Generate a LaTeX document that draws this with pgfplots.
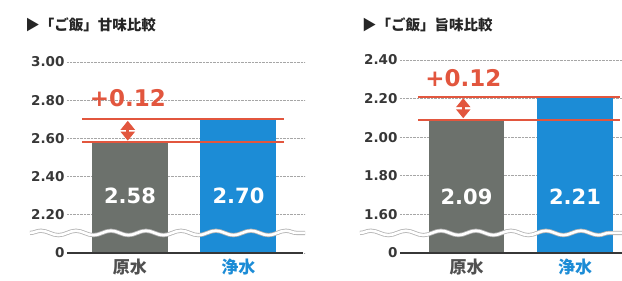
\documentclass[border=0pt]{standalone}
\usepackage{fontspec}
\setmainfont{DejaVu Sans}
\newfontfamily\cjk{Noto Sans CJK JP}
\usepackage{pgfplots}
\pgfplotsset{compat=1.18}
\usetikzlibrary{arrows.meta,decorations.pathmorphing}
\definecolor{bargray}{RGB}{108,113,108}
\definecolor{barblue}{RGB}{28,140,214}
\definecolor{myred}{RGB}{226,86,62}
\definecolor{labgray}{RGB}{80,80,80}
\definecolor{tickgray}{RGB}{55,55,55}
\pgfplotsset{
  mystyle/.style={
    scale only axis,
    anchor=south west,
    clip mode=individual,
    axis line style={draw=none},
    major tick length=0pt,
    xtick={0,1},
    xticklabels={\textcolor{labgray}{原水},\textcolor{barblue}{浄水}},
    x tick label style={font=\cjk\bfseries\fontsize{17}{17}\selectfont, yshift=-2pt},
    y tick label style={font=\bfseries\fontsize{13.5}{13.5}\selectfont, text=tickgray, xshift=1pt},
    ymajorgrids,
    grid style={densely dotted, gray!70, line width=0.7pt},
    /pgf/number format/assume math mode=true,
  },
  redline/.style={myred, line width=1.8pt, no marks},
  dbl/.style={myred, line width=2.8pt, no marks, {Triangle[width=14pt,length=9pt]}-{Triangle[width=14pt,length=9pt]}},
}
\begin{document}
\begin{tikzpicture}
\useasboundingbox (0,0) rectangle (622pt,281pt);
% left chart
\begin{axis}[mystyle, at={(67pt,28pt)}, width=238pt, height=191pt,
  xmin=-0.58, xmax=1.613, ymin=2, ymax=3,
  ytick={2,2.2,2.4,2.6,2.8,3.0},
  yticklabels={0,2.20,2.40,2.60,2.80,3.00}]
\addplot[ybar, bar width=0.7, bar shift=0pt, fill=bargray, draw=none] coordinates {(0,2.58)};
\addplot[ybar, bar width=0.7, bar shift=0pt, fill=barblue, draw=none] coordinates {(1,2.70)};
\addplot[redline] coordinates {(-0.44,2.58) (1.42,2.58)};
\addplot[redline] coordinates {(-0.44,2.70) (1.42,2.70)};
\addplot[dbl] coordinates {(-0.02,2.588) (-0.02,2.692)};
\draw[gray!60, line width=4.2pt, decorate, decoration={snake, amplitude=2.2pt, segment length=35pt}] (axis cs:-0.921,2.105) -- (axis cs:1.613,2.105);
\draw[white, line width=2.6pt, decorate, decoration={snake, amplitude=2.2pt, segment length=35pt}] (axis cs:-0.921,2.105) -- (axis cs:1.613,2.105);
\draw[tickgray, line width=1.8pt] (axis cs:-0.58,2) -- (axis cs:1.59,2);
\node[white, font=\bfseries\fontsize{21}{21}\selectfont] at (axis cs:0,2.30) {2.58};
\node[white, font=\bfseries\fontsize{21}{21}\selectfont] at (axis cs:1,2.30) {2.70};
\node[myred, font=\bfseries\fontsize{23}{23}\selectfont] at (axis cs:-0.02,2.81) {+0.12};
\node[anchor=west, text=black!85, font=\cjk\bfseries\fontsize{14.5}{14.5}\selectfont, inner sep=0pt] at (rel axis cs:-0.176,1.194) {▶「ご飯」甘味比較};
\end{axis}
% right chart
\begin{axis}[mystyle, at={(400pt,28pt)}, width=222pt, height=193pt,
  xmin=-0.613, xmax=1.433, ymin=1.4, ymax=2.4,
  ytick={1.4,1.6,1.8,2.0,2.2,2.4},
  yticklabels={0,1.60,1.80,2.00,2.20,2.40}]
\addplot[ybar, bar width=0.7, bar shift=0pt, fill=bargray, draw=none] coordinates {(0,2.09)};
\addplot[ybar, bar width=0.7, bar shift=0pt, fill=barblue, draw=none] coordinates {(1,2.21)};
\addplot[redline] coordinates {(-0.447,2.09) (1.415,2.09)};
\addplot[redline] coordinates {(-0.447,2.21) (1.415,2.21)};
\addplot[dbl] coordinates {(-0.03,2.098) (-0.03,2.202)};
\draw[gray!60, line width=4.2pt, decorate, decoration={snake, amplitude=2.2pt, segment length=35pt}] (axis cs:-0.982,1.504) -- (axis cs:1.433,1.504);
\draw[white, line width=2.6pt, decorate, decoration={snake, amplitude=2.2pt, segment length=35pt}] (axis cs:-0.982,1.504) -- (axis cs:1.433,1.504);
\draw[tickgray, line width=1.8pt] (axis cs:-0.613,1.4) -- (axis cs:1.433,1.4);
\node[white, font=\bfseries\fontsize{21}{21}\selectfont] at (axis cs:0,1.69) {2.09};
\node[white, font=\bfseries\fontsize{21}{21}\selectfont] at (axis cs:1,1.69) {2.21};
\node[myred, font=\bfseries\fontsize{23}{23}\selectfont] at (axis cs:-0.03,2.307) {+0.12};
\node[anchor=west, text=black!85, font=\cjk\bfseries\fontsize{14.5}{14.5}\selectfont, inner sep=0pt] at (rel axis cs:-0.171,1.181) {▶「ご飯」旨味比較};
\end{axis}
\end{tikzpicture}
\end{document}
